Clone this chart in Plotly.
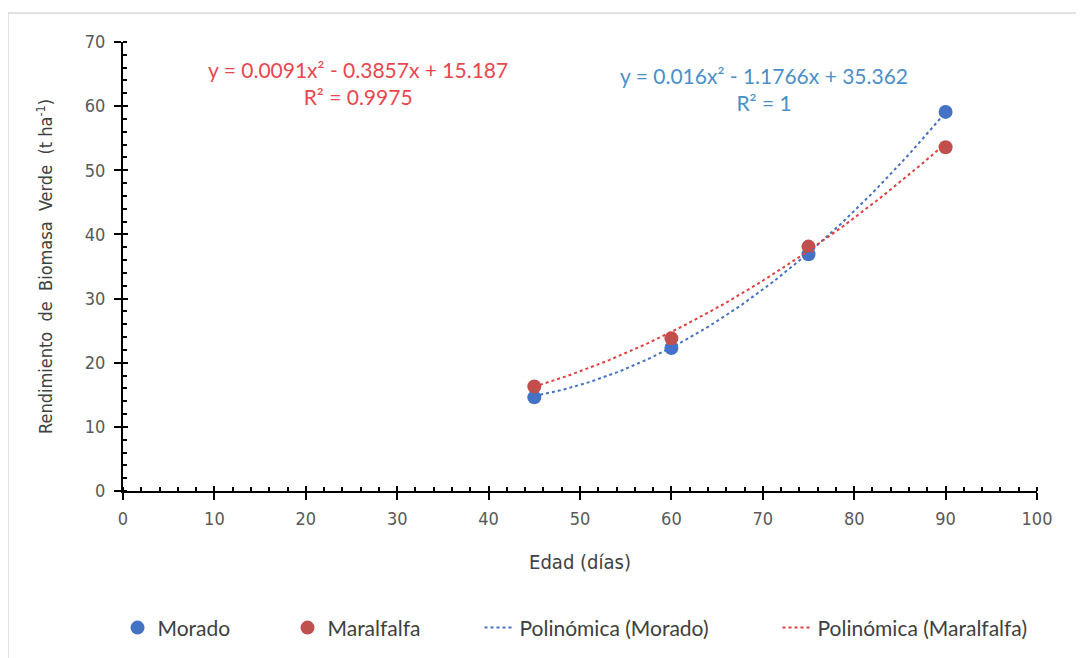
import numpy as np
import plotly.graph_objects as go

# ---- data ----
edad = [45, 60, 75, 90]
morado = [14.6, 22.3, 36.9, 59.1]
maralfalfa = [16.3, 23.8, 38.1, 53.6]

# trendline coefficients as printed on the chart (a, b, c for a*x^2 + b*x + c)
coef_morado = [0.016, -1.1766, 35.362]
coef_maralfalfa = [0.0091, -0.3857, 15.187]
eq_morado = ["y = 0.016x² - 1.1766x + 35.362", "R² = 1"]
eq_maralfalfa = ["y = 0.0091x² - 0.3857x + 15.187", "R² = 0.9975"]

x_ticks = [0, 10, 20, 30, 40, 50, 60, 70, 80, 90, 100]
y_ticks = [0, 10, 20, 30, 40, 50, 60, 70]

BLUE = "#4472C4"
RED = "#C0504D"
TXT = "#404040"
TICKTXT = "#595959"
COND = "DejaVu Sans Condensed, Roboto, sans-serif"
BODY = "Lato, Carlito, Calibri, sans-serif"

xs = np.linspace(min(edad), max(edad), 100)
fit_m = np.polyval(coef_morado, xs)
fit_r = np.polyval(coef_maralfalfa, xs)

fig = go.Figure()
fig.add_trace(go.Scatter(x=edad, y=morado, mode="markers", name="Morado",
                         marker=dict(color=BLUE, size=14), legendwidth=125))
fig.add_trace(go.Scatter(x=edad, y=maralfalfa, mode="markers", name="Maralfalfa",
                         marker=dict(color=RED, size=14), legendwidth=147))
fig.add_trace(go.Scatter(x=xs, y=fit_m, mode="lines", name="Polinómica (Morado)",
                         line=dict(color=BLUE, width=2, dash="dot"), legendwidth=253))
fig.add_trace(go.Scatter(x=xs, y=fit_r, mode="lines", name="Polinómica (Maralfalfa)",
                         line=dict(color="#E0403F", width=2, dash="dot")))

# equations
fig.add_annotation(x=0.257, y=0.9076, xref="paper", yref="paper", showarrow=False,
                   xanchor="center", yanchor="middle",
                   text=eq_maralfalfa[0] + "<br>" + eq_maralfalfa[1], align="center",
                   font=dict(family=BODY, size=21, color="#E8474F"))
fig.add_annotation(x=0.701, y=0.8964, xref="paper", yref="paper", showarrow=False,
                   xanchor="center", yanchor="middle",
                   text=eq_morado[0] + "<br>" + eq_morado[1], align="center",
                   font=dict(family=BODY, size=21, color="#4A90C8"))

# outer border
fig.add_shape(type="rect", xref="paper", yref="paper",
              x0=(8 - 123) / 914, x1=(1100 - 123) / 914,
              y0=(491 - 670) / 449, y1=(491 - 13) / 449,
              line=dict(color="#D9D9D9", width=1.5), layer="below")

axis_common = dict(showgrid=False, zeroline=False, showline=True, linecolor="black",
                   linewidth=2, tickcolor="black", tickwidth=2, ticklen=7)

fig.update_layout(
    width=1084, height=658,
    paper_bgcolor="white", plot_bgcolor="white",
    margin=dict(l=115, r=55, t=34, b=175),
    showlegend=True,
    legend=dict(orientation="h", x=-0.006, xanchor="left", y=-0.305, yanchor="middle",
                font=dict(family=BODY, size=21, color=TXT), bgcolor="rgba(0,0,0,0)"),
    xaxis=dict(range=[0, 100], tickvals=x_ticks, ticks="outside", ticklabelstandoff=3,
               tickfont=dict(family=COND, size=18, color=TICKTXT),
               minor=dict(ticks="inside", dtick=2, ticklen=4, tickcolor="black", tickwidth=1.5),
               title=dict(text="Edad (días)", font=dict(family=COND, size=20, color=TXT), standoff=27),
               **axis_common),
    yaxis=dict(range=[0, 70], tickvals=y_ticks, ticks="outside", ticklabelstandoff=5,
               tickfont=dict(family=COND, size=18, color=TICKTXT),
               minor=dict(ticks="inside", dtick=2, ticklen=4, tickcolor="black", tickwidth=1.5),
               title=dict(text="Rendimiento  de  Biomasa  Verde  (t ha<sup>-1</sup>)",
                          font=dict(family=COND, size=18, color=TXT), standoff=27),
               **axis_common),
    xaxis2=dict(overlaying="x", anchor="y", side="bottom", range=[0, 100], tickvals=x_ticks,
                ticks="inside", ticklen=5, tickwidth=2, tickcolor="black",
                showticklabels=False, showgrid=False, zeroline=False, showline=False),
    yaxis2=dict(overlaying="y", anchor="x", side="left", range=[0, 70], tickvals=y_ticks,
                ticks="inside", ticklen=5, tickwidth=2, tickcolor="black",
                showticklabels=False, showgrid=False, zeroline=False, showline=False),
)
# invisible trace that activates the overlay axes (used only for inner major ticks)
fig.add_trace(go.Scatter(x=[0], y=[0], xaxis="x2", yaxis="y2", mode="markers",
                         marker=dict(opacity=0), showlegend=False, hoverinfo="skip"))

fig.write_html("out.html")
